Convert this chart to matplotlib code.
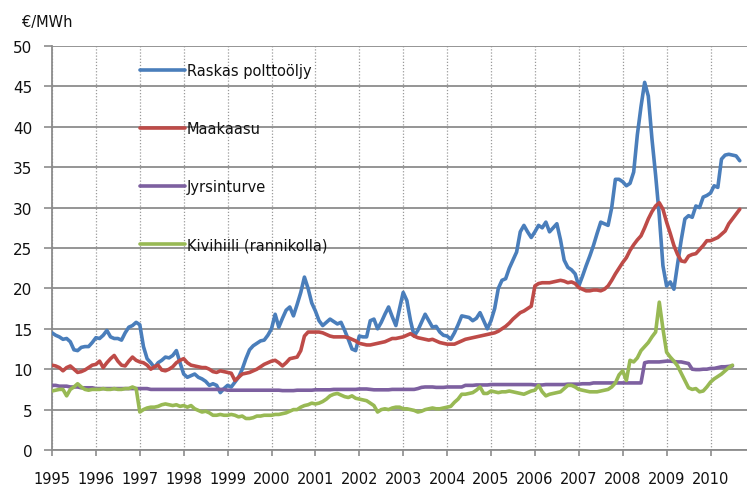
import numpy as np
import matplotlib
matplotlib.use("Agg")
import matplotlib.pyplot as plt

start_year = 1995
year_ticks = list(range(1995, 2011))
y_ticks = [0, 5, 10, 15, 20, 25, 30, 35, 40, 45, 50]
unit_label = "€/MWh"
series_names = ["Raskas polttoöljy", "Maakaasu", "Jyrsinturve", "Kivihiili (rannikolla)"]
series_colors = ["#4A7EBB", "#BE4B48", "#7D60A0", "#98B954"]

# Monthly values, Jan 1995 onwards
raskas = [
    14.5, 14.2, 14.0, 13.7, 13.8, 13.4, 12.4, 12.3, 12.7, 12.8, 12.8, 13.3,
    13.9, 13.8, 14.2, 14.8, 14.0, 13.8, 13.8, 13.6, 14.5, 15.2, 15.4, 15.8,
    15.5, 12.8, 11.3, 10.8, 10.2, 10.8, 11.1, 11.5, 11.4, 11.7, 12.3, 10.8,
    9.4, 9.0, 9.2, 9.4, 9.0, 8.8, 8.5, 8.0, 8.2, 8.0, 7.1, 7.6,
    8.0, 7.8, 8.4, 9.0, 10.0, 11.3, 12.4, 12.9, 13.2, 13.5, 13.6, 14.2,
    15.0, 16.8, 15.2, 16.3, 17.3, 17.7, 16.6, 18.0, 19.5, 21.4, 20.0, 18.2,
    17.2, 16.0, 15.4, 15.8, 16.2, 15.9, 15.6, 15.8, 14.8, 13.7, 12.5, 12.3,
    14.1, 14.0, 14.0, 16.0, 16.2, 15.0, 15.8, 16.8, 17.7, 16.5, 15.4, 17.5,
    19.5, 18.5, 16.0, 14.1, 14.8, 15.8, 16.8, 16.0, 15.2, 15.3, 14.6, 14.2,
    14.1, 13.7, 14.5, 15.5, 16.6, 16.5, 16.4, 16.0, 16.3, 17.0, 16.0, 15.0,
    16.0, 17.5, 20.0, 21.0, 21.2, 22.5, 23.5, 24.5, 27.0, 27.8, 27.0, 26.3,
    27.0, 27.8, 27.5, 28.2, 27.0, 27.5, 28.0, 26.0, 23.5, 22.6, 22.3, 21.8,
    20.3, 21.5, 22.8, 24.0, 25.3, 26.8, 28.2, 28.0, 27.8, 30.0, 33.5, 33.5,
    33.2, 32.7, 33.0, 34.4, 39.0, 42.5, 45.5, 43.8, 38.5, 34.0, 29.0, 22.8,
    20.3, 20.8, 19.9, 23.0, 26.0, 28.6, 29.0, 28.8, 30.2, 30.0, 31.3, 31.5,
    31.8, 32.7, 32.5, 36.0, 36.5, 36.6, 36.5, 36.4, 35.8,
]
maakaasu = [
    10.5, 10.4, 10.2, 9.8, 10.2, 10.4, 10.0, 9.6, 9.7, 9.9, 10.2, 10.5,
    10.6, 11.0, 10.2, 10.8, 11.3, 11.7, 11.0, 10.5, 10.4, 11.0, 11.5, 11.1,
    10.9, 10.8, 10.5, 10.0, 10.3, 10.5, 9.9, 9.8, 10.0, 10.3, 10.8, 11.1,
    11.3, 10.8, 10.5, 10.4, 10.3, 10.2, 10.2, 10.0, 9.7, 9.6, 9.8, 9.7,
    9.6, 9.5, 8.6, 9.0, 9.4, 9.5, 9.6, 9.8, 10.0, 10.3, 10.6, 10.8,
    11.0, 11.1, 10.8, 10.4, 10.8, 11.3, 11.4, 11.5, 12.3, 14.1, 14.6, 14.6,
    14.6, 14.6, 14.5, 14.3, 14.1, 14.0, 14.0, 14.0, 14.0, 13.9, 13.7, 13.5,
    13.2, 13.1, 13.0, 13.0, 13.1, 13.2, 13.3, 13.4, 13.6, 13.8, 13.8, 13.9,
    14.0, 14.2, 14.4, 14.1, 13.9, 13.8, 13.7, 13.6, 13.7, 13.5, 13.3, 13.2,
    13.1, 13.1, 13.1, 13.3, 13.5, 13.7, 13.8, 13.9, 14.0, 14.1, 14.2, 14.3,
    14.4, 14.5, 14.7, 15.0, 15.3, 15.7, 16.2, 16.6, 17.0, 17.2, 17.5, 17.8,
    20.3, 20.6, 20.7, 20.7, 20.7, 20.8, 20.9, 21.0, 20.9, 20.7, 20.8, 20.6,
    20.1, 19.9, 19.7, 19.7, 19.8, 19.8, 19.7, 19.9, 20.3, 21.0, 21.8, 22.5,
    23.2, 23.8, 24.7, 25.4, 26.0, 26.5, 27.5, 28.6, 29.5, 30.2, 30.6, 29.8,
    28.2, 26.8, 25.3, 24.2, 23.4, 23.3, 24.0, 24.2, 24.3, 24.8, 25.3, 25.9,
    25.9, 26.1, 26.3, 26.7, 27.1, 28.0, 28.6, 29.2, 29.8,
]
jyrsinturve = [
    8.0, 8.0, 7.9, 7.9, 7.9, 7.8, 7.8, 7.8, 7.7, 7.7, 7.7, 7.7,
    7.6, 7.6, 7.6, 7.6, 7.6, 7.6, 7.6, 7.6, 7.6, 7.6, 7.6, 7.6,
    7.6, 7.6, 7.6, 7.5, 7.5, 7.5, 7.5, 7.5, 7.5, 7.5, 7.5, 7.5,
    7.5, 7.5, 7.5, 7.5, 7.5, 7.5, 7.5, 7.5, 7.5, 7.5, 7.5, 7.5,
    7.4, 7.4, 7.4, 7.4, 7.4, 7.4, 7.4, 7.4, 7.4, 7.4, 7.4, 7.4,
    7.4, 7.4, 7.4, 7.35, 7.35, 7.35, 7.35, 7.4, 7.4, 7.4, 7.4, 7.4,
    7.45, 7.45, 7.45, 7.45, 7.45, 7.5, 7.5, 7.5, 7.5, 7.5, 7.5, 7.5,
    7.55, 7.55, 7.55, 7.5, 7.45, 7.45, 7.45, 7.45, 7.45, 7.5, 7.5, 7.5,
    7.5, 7.5, 7.5, 7.5, 7.6, 7.75, 7.8, 7.8, 7.8, 7.75, 7.75, 7.75,
    7.8, 7.8, 7.8, 7.8, 7.8, 8.0, 8.0, 8.0, 8.05, 8.05, 8.05, 8.05,
    8.1, 8.1, 8.1, 8.1, 8.1, 8.1, 8.1, 8.1, 8.1, 8.1, 8.1, 8.1,
    8.05, 8.05, 8.05, 8.1, 8.1, 8.1, 8.1, 8.1, 8.1, 8.15, 8.15, 8.15,
    8.15, 8.2, 8.2, 8.2, 8.3, 8.3, 8.3, 8.3, 8.3, 8.3, 8.3, 8.3,
    8.3, 8.3, 8.3, 8.3, 8.3, 8.3, 10.8, 10.9, 10.9, 10.9, 10.9, 10.95,
    11.0, 11.0, 10.95, 10.9, 10.9, 10.8, 10.7, 10.0, 9.95, 9.95, 10.0, 10.0,
    10.1, 10.1, 10.2, 10.3, 10.3, 10.35, 10.4,
]
kivihiili = [
    7.3, 7.4, 7.5, 7.5, 6.7, 7.5, 7.8, 8.2, 7.8, 7.5, 7.4, 7.5,
    7.5, 7.5, 7.6, 7.5, 7.5, 7.6, 7.5, 7.5, 7.6, 7.6, 7.8, 7.6,
    4.7, 5.0, 5.2, 5.3, 5.3, 5.4, 5.6, 5.7, 5.6, 5.5, 5.6, 5.4,
    5.5, 5.3, 5.5, 5.1, 4.9, 4.7, 4.8, 4.6, 4.3, 4.3, 4.4, 4.3,
    4.3, 4.4, 4.3, 4.1, 4.2, 3.9, 3.9, 4.0, 4.2, 4.2, 4.3, 4.3,
    4.3, 4.4, 4.4, 4.5, 4.6, 4.8, 5.0, 5.0, 5.3, 5.5, 5.6, 5.8,
    5.7, 5.8, 6.0, 6.3, 6.7, 6.9, 7.0, 6.8, 6.6, 6.5, 6.7, 6.4,
    6.3, 6.2, 6.1, 5.8, 5.5, 4.7, 5.0, 5.1, 5.0, 5.2, 5.3, 5.3,
    5.1, 5.1, 5.0, 4.9, 4.7, 4.8, 5.0, 5.1, 5.2, 5.1, 5.1, 5.2,
    5.3, 5.4, 5.9, 6.3, 6.9, 6.9, 7.0, 7.1, 7.4, 7.8, 7.0, 7.0,
    7.3, 7.2, 7.1, 7.2, 7.2, 7.3, 7.2, 7.1, 7.0, 6.9, 7.1, 7.3,
    7.4, 8.0, 7.2, 6.7, 6.9, 7.0, 7.1, 7.2, 7.6, 8.0, 8.0, 7.8,
    7.5, 7.4, 7.3, 7.2, 7.2, 7.2, 7.3, 7.4, 7.5, 7.8, 8.3, 9.3,
    9.8, 8.6, 11.1, 10.9, 11.4, 12.3, 12.8, 13.3, 14.0, 14.6, 18.3, 15.0,
    12.1, 11.5, 11.0, 10.4, 9.5, 8.6, 7.7, 7.5, 7.6, 7.2, 7.3, 7.8,
    8.4, 8.8, 9.1, 9.4, 9.8, 10.2, 10.5,
]

all_series = [raskas, maakaasu, jyrsinturve, kivihiili]

W, H, DPI = 747, 489, 100
fig = plt.figure(figsize=(W / DPI, H / DPI), dpi=DPI)
x0, x1, ytop, ybot = 52, 747, 47, 451
ax = fig.add_axes([x0 / W, 1 - ybot / H, (x1 - x0) / W, (ybot - ytop) / H])

px_per_year = 43.9
ax.set_xlim(start_year, start_year + (x1 - x0) / px_per_year)
ax.set_ylim(0, 50)

for vals, name, col in zip(all_series, series_names, series_colors):
    xs = start_year + np.arange(len(vals)) / 12.0
    ax.plot(xs, vals, color=col, lw=2.6, label=name, solid_capstyle='round',
            solid_joinstyle='round', zorder=3)

ax.set_yticks(y_ticks)
ax.set_xticks(year_ticks)
ax.set_xticklabels([str(y) for y in year_ticks])
ax.yaxis.grid(True, color="#8C8C8C", lw=1.3, zorder=1)
ax.xaxis.grid(True, color="#9A9A9A", lw=0.9, linestyle=(0, (1, 1.5)), zorder=1)
for s in ["top", "right"]:
    ax.spines[s].set_visible(False)
for s in ["left", "bottom"]:
    ax.spines[s].set_color("#8C8C8C")
    ax.spines[s].set_linewidth(1.3)
ax.tick_params(axis="y", length=6, width=1.2, color="#8C8C8C", pad=8,
               labelsize=11, labelcolor="#111111")
ax.tick_params(axis="x", length=4, width=1.2, color="#8C8C8C", pad=11,
               labelsize=10.5, labelcolor="#111111")

fig.text(22 / W, 1 - 22 / H, unit_label, fontsize=10.5, va="center", ha="left",
         color="#111111")

leg = ax.legend(loc="upper left", bbox_to_anchor=((140 - x0) / (x1 - x0), (ybot - 64) / (ybot - ytop)),
                frameon=False, handlelength=3.1, handletextpad=0.1,
                labelspacing=2.95, borderpad=0, borderaxespad=0, fontsize=10.5)
for t in leg.get_texts():
    t.set_color("#111111")

fig.savefig("out.png", dpi=DPI)
